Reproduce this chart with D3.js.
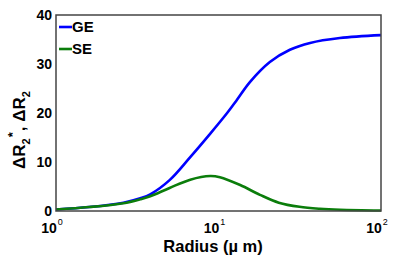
<!DOCTYPE html>
<html>
<head>
<meta charset="utf-8">
<script src="https://cdn.jsdelivr.net/npm/d3@7"></script>
<style>
  body { margin: 0; background: #fff; }
  text { font-family: "Liberation Sans", Arial, sans-serif; font-weight: bold; fill: #000; }
</style>
</head>
<body>
<div id="chart"></div>
<script>
// radius (um) and signal change
const radiusGE = [1, 1.6, 2.6, 3.3, 3.8, 5.0, 6.7, 8.9, 11.3, 13, 15.6, 20.7, 27.5, 36.6, 55.8, 100];
const valuesGE = [0.3, 0.8, 1.7, 2.6, 3.4, 6.3, 11.0, 15.8, 20, 22.7, 26.3, 30.4, 32.9, 34.3, 35.3, 35.9];

const radiusSE = [1, 1.6, 2.6, 3.3, 3.8, 5.0, 6.7, 8.9, 10.2, 13.6, 18, 23.5, 31.5, 42, 56, 100];
const valuesSE = [0.3, 0.8, 1.6, 2.4, 3.0, 4.7, 6.4, 7.15, 6.9, 5.3, 3.3, 1.7, 0.85, 0.45, 0.25, 0.1];

const yTicks = [0, 10, 20, 30, 40];
const xTicks = [1, 10, 100];
const seriesNames = ["GE", "SE"];
const seriesColors = ["#0000ff", "#0b7d0b"];

const width = 400, height = 261;
const margin = {top: 15, right: 19, bottom: 50, left: 56};
const w = width - margin.left - margin.right;
const h = height - margin.top - margin.bottom;

const svg = d3.select("#chart").append("svg")
    .attr("width", width)
    .attr("height", height);

const g = svg.append("g")
    .attr("transform", `translate(${margin.left},${margin.top})`);

const x = d3.scaleLog().domain([1, 100]).range([0, w]);
const y = d3.scaleLinear().domain([0, 40]).range([h, 0]);

// y tick labels
g.selectAll(".ytick").data(yTicks).enter().append("text")
    .attr("class", "ytick")
    .attr("x", -4)
    .attr("y", d => y(d))
    .attr("dy", "0.36em")
    .attr("text-anchor", "end")
    .style("font-size", "14px")
    .text(d => d);

// x tick labels 10^n
const xt = g.selectAll(".xtick").data(xTicks).enter().append("text")
    .attr("class", "xtick")
    .attr("x", d => x(d) - 4)
    .attr("y", h + 22)
    .attr("text-anchor", "middle")
    .style("font-size", "14px");
xt.append("tspan").text("10");
xt.append("tspan")
    .attr("dx", 1)
    .attr("dy", -8)
    .style("font-size", "9px")
    .style("font-weight", "normal")
    .text(d => Math.round(Math.log10(d)));

// series
const line = d3.line()
    .x(d => x(d[0]))
    .y(d => y(d[1]))
    .curve(d3.curveCatmullRom.alpha(0.5));

const series = [
  d3.zip(radiusGE, valuesGE),
  d3.zip(radiusSE, valuesSE)
];

g.selectAll(".series").data(series).enter().append("path")
    .attr("class", "series")
    .attr("d", line)
    .attr("fill", "none")
    .attr("stroke", (d, i) => seriesColors[i])
    .attr("stroke-width", 2.6);

// frame
g.append("rect")
    .attr("x", 0).attr("y", 0)
    .attr("width", w).attr("height", h)
    .attr("fill", "none")
    .attr("stroke", "#444")
    .attr("stroke-width", 1.5);

// legend
const leg = g.selectAll(".leg").data(seriesNames).enter().append("g")
    .attr("class", "leg")
    .attr("transform", (d, i) => `translate(3,${12 + i * 22})`);
leg.append("line")
    .attr("x1", 0).attr("x2", 13)
    .attr("stroke", (d, i) => seriesColors[i])
    .attr("stroke-width", 2.6);
leg.append("text")
    .attr("x", 13)
    .attr("dy", "0.36em")
    .style("font-size", "15px")
    .text(d => d);

// axis labels
svg.append("text")
    .attr("x", 213)
    .attr("y", 252)
    .attr("text-anchor", "middle")
    .style("font-size", "16.5px")
    .text("Radius (\u00b5 m)");

const yl = svg.append("text")
    .attr("transform", "translate(25,130) rotate(-90)")
    .attr("text-anchor", "middle")
    .style("font-size", "17px");
yl.append("tspan").text("\u0394R");
yl.append("tspan").attr("dy", 5).style("font-size", "11px").text("2");
yl.append("tspan").attr("dy", -13).attr("dx", 1).style("font-size", "13px").text("*");
yl.append("tspan").attr("dy", 8).attr("dx", 1).text(",  \u0394R");
yl.append("tspan").attr("dy", 5).style("font-size", "11px").text("2");
</script>
</body>
</html>
